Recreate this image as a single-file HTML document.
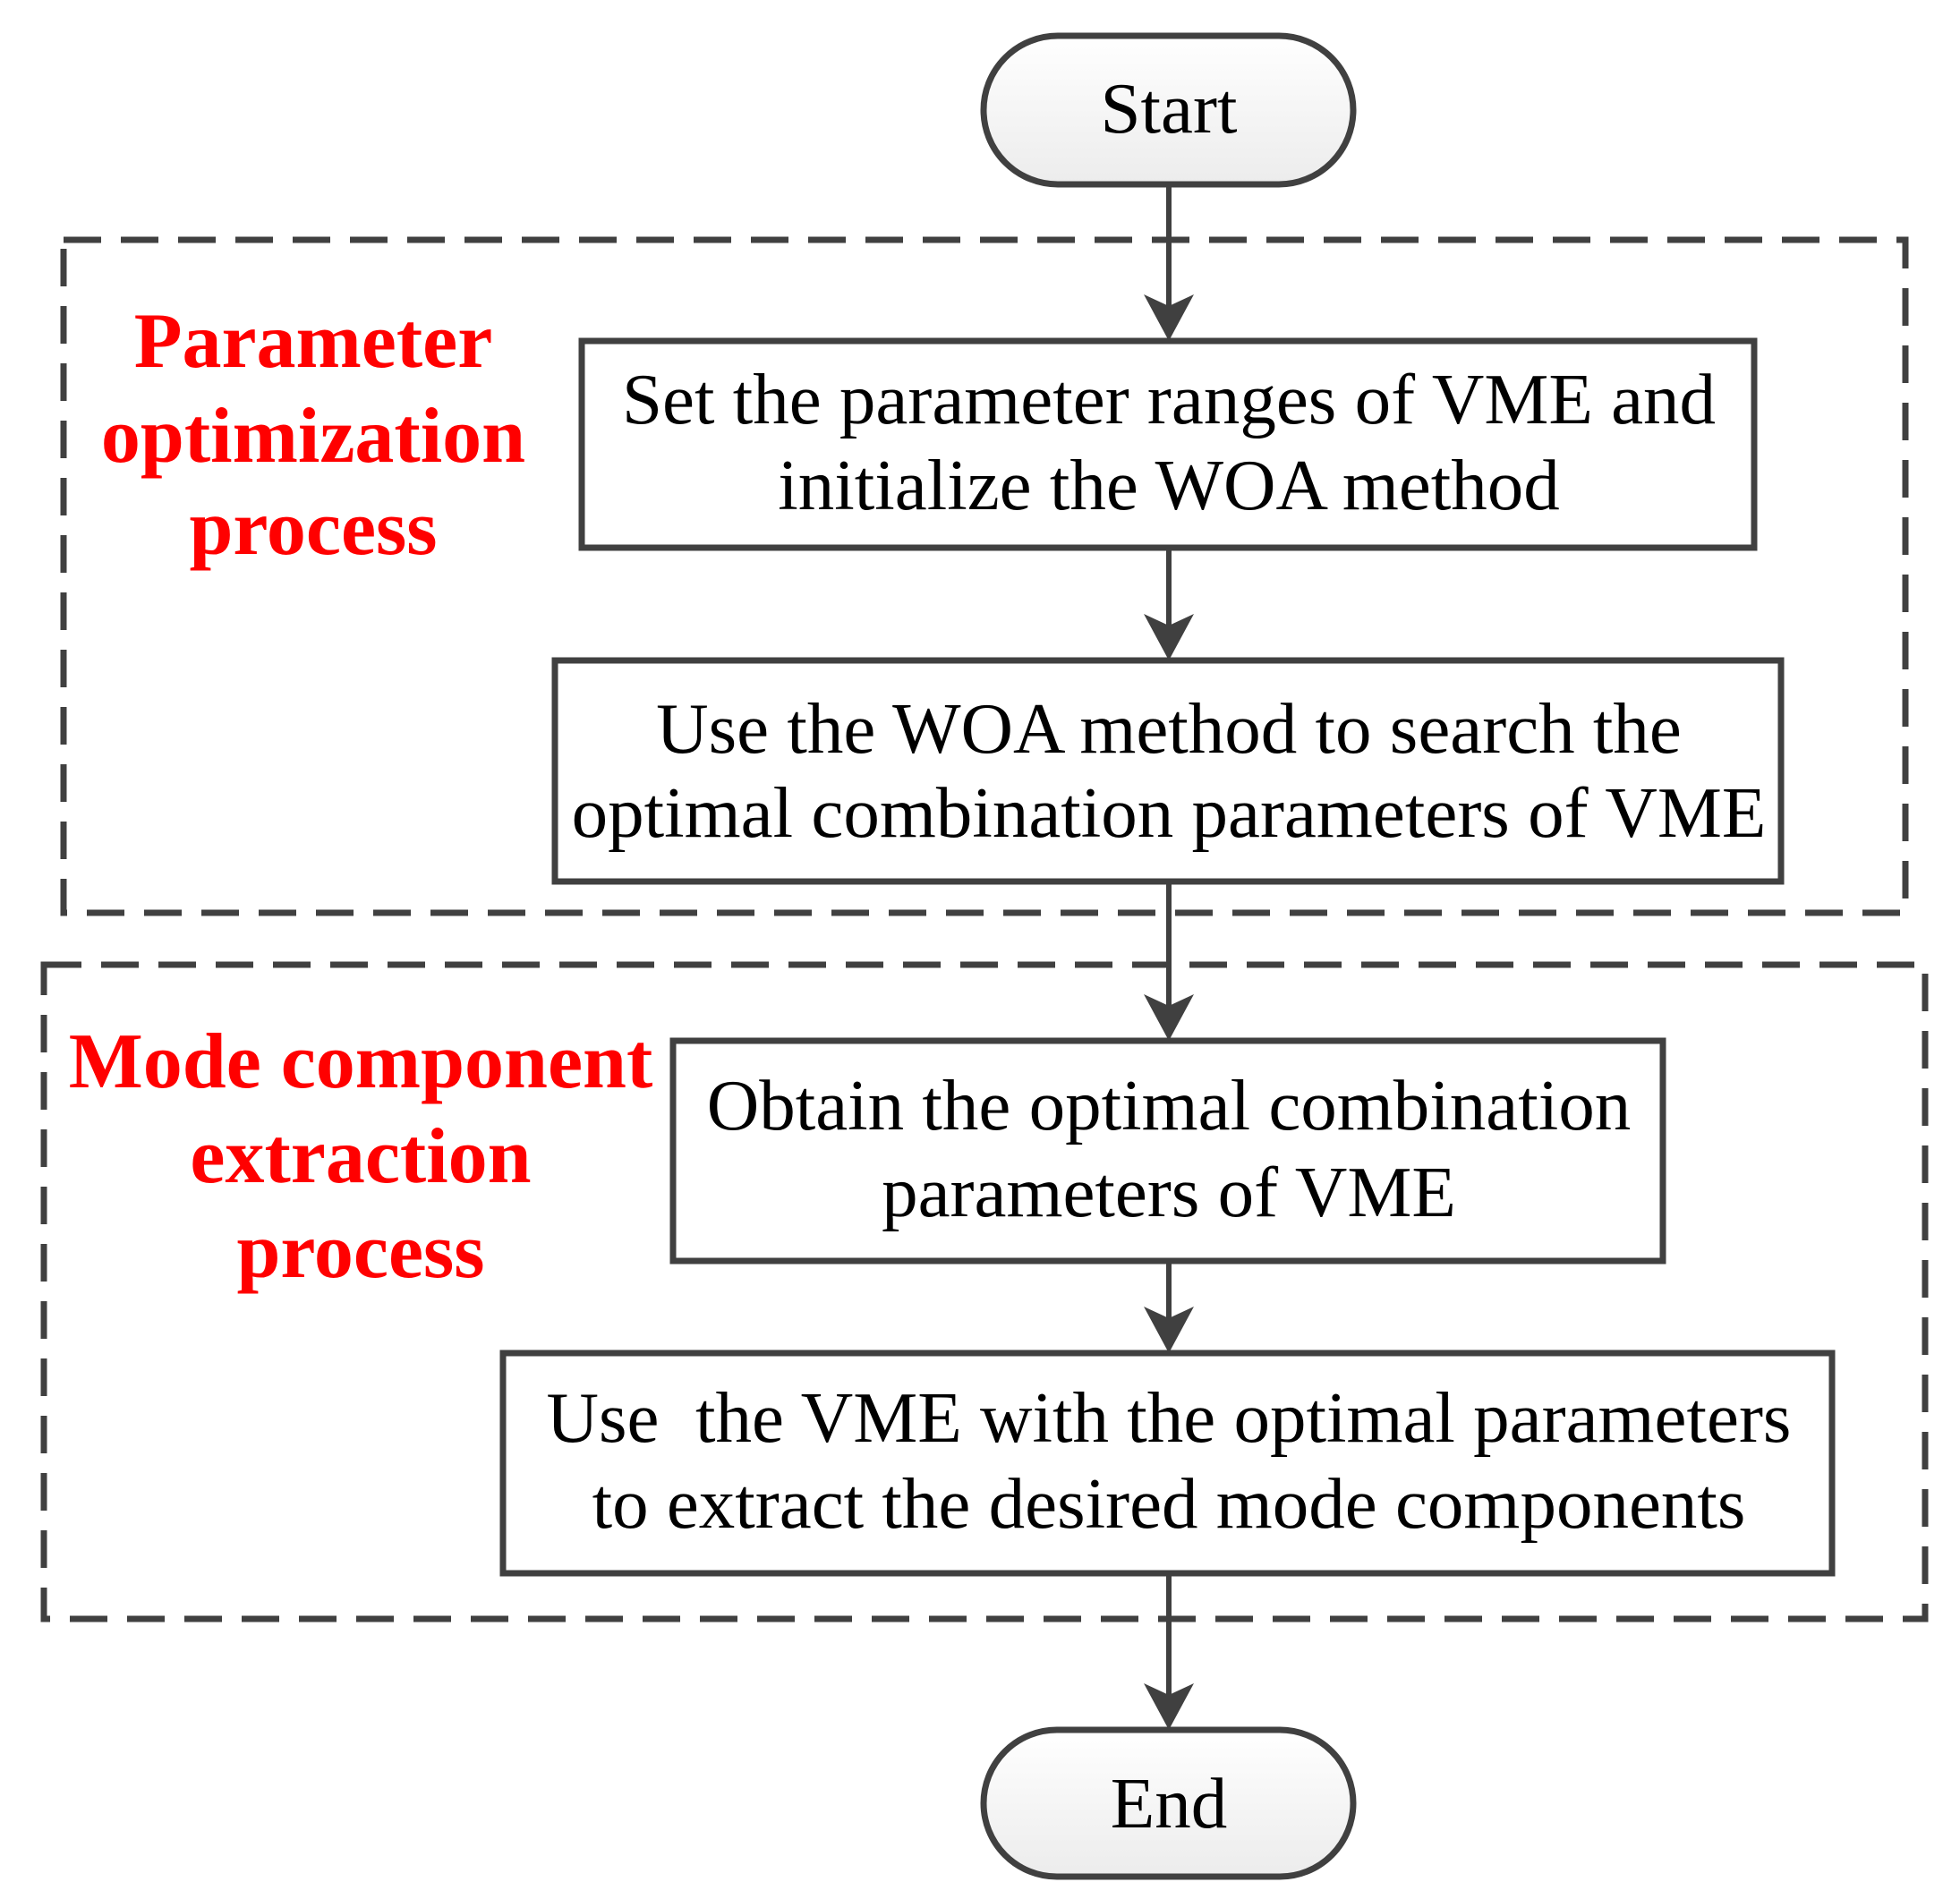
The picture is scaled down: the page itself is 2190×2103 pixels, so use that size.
<!DOCTYPE html>
<html><head><style>html,body{margin:0;padding:0;background:#fff}svg{display:block}</style></head>
<body>
<svg width="2190" height="2103" viewBox="0 0 2190 2103" xmlns="http://www.w3.org/2000/svg">
<defs>
<linearGradient id="g" x1="0" y1="0" x2="0" y2="1"><stop offset="0" stop-color="#ffffff"/><stop offset="1" stop-color="#ececec"/></linearGradient>
</defs>
<g fill="none" stroke="#404040" stroke-width="7" stroke-dasharray="42 22">
<rect x="71" y="268" width="2058" height="752"/>
<rect x="49" y="1078" width="2102" height="731"/>
</g>
<g stroke="#404040" stroke-width="6" fill="none">
<line x1="1306" y1="206" x2="1306" y2="350"/>
<line x1="1306" y1="612" x2="1306" y2="705"/>
<line x1="1306" y1="985" x2="1306" y2="1132"/>
<line x1="1306" y1="1409" x2="1306" y2="1482"/>
<line x1="1306" y1="1758" x2="1306" y2="1903"/>
</g>
<g fill="#404040">
<path d="M1306 381 L1278 329 L1306 342 L1334 329Z"/>
<path d="M1306 738 L1278 686 L1306 699 L1334 686Z"/>
<path d="M1306 1163 L1278 1111 L1306 1124 L1334 1111Z"/>
<path d="M1306 1512 L1278 1460 L1306 1473 L1334 1460Z"/>
<path d="M1306 1933 L1278 1881 L1306 1894 L1334 1881Z"/>
</g>
<g stroke="#404040" stroke-width="7" fill="url(#g)">
<rect x="1099" y="40" width="413" height="166" rx="83"/>
<rect x="1099" y="1933" width="413" height="164" rx="82"/>
</g>
<g stroke="#404040" stroke-width="7" fill="#fff">
<rect x="650" y="381" width="1310" height="231"/>
<rect x="620" y="738" width="1370" height="247"/>
<rect x="752" y="1163" width="1106" height="246"/>
<rect x="562" y="1512" width="1485" height="246"/>
</g>
<g font-family="Liberation Serif, serif" font-size="81" fill="#000" text-anchor="middle">
<text x="1306" y="148">Start</text>
<text x="1306" y="2042">End</text>
<text x="1306" y="473">Set the parameter ranges of VME and</text>
<text x="1306" y="569">initialize the WOA method</text>
<text x="1306" y="841">Use the WOA method to search the</text>
<text x="1306" y="935">optimal combination parameters of VME</text>
<text x="1306" y="1262">Obtain the optimal combination</text>
<text x="1306" y="1359">parameters of VME</text>
<text x="1306" y="1611" xml:space="preserve">Use  the VME with the optimal parameters</text>
<text x="1306" y="1707">to extract the desired mode components</text>
</g>
<g font-family="Liberation Serif, serif" font-size="88" font-weight="bold" fill="#ff0000" text-anchor="middle">
<text x="350" y="410">Parameter</text>
<text x="350" y="516">optimization</text>
<text x="350" y="619">process</text>
<text x="403" y="1215">Mode component</text>
<text x="403" y="1321">extraction</text>
<text x="403" y="1427">process</text>
</g>
</svg>
</body></html>
